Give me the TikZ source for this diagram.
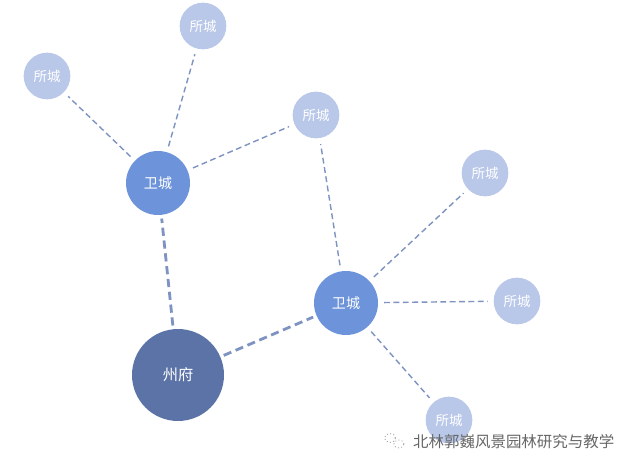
\documentclass[tikz,border=0pt]{standalone}
\usepackage{fontspec}
\newfontfamily\cjk{Noto Sans CJK SC}
\usetikzlibrary{calc,shapes.geometric}
\definecolor{zhoufu}{HTML}{5B73A6}
\definecolor{weicheng}{HTML}{6D93DA}
\definecolor{suocheng}{HTML}{B9C8E9}
\definecolor{linkcol}{HTML}{7E93C2}
\tikzset{
	zhou/.style={circle, fill=zhoufu, minimum size=27.6mm, inner sep=0pt, text=white, font=\cjk\fontsize{13}{13}\selectfont},
	wei/.style={circle, fill=weicheng, minimum size=19.2mm, inner sep=0pt, text=white, font=\cjk\fontsize{12}{12}\selectfont},
	suo/.style={circle, fill=suocheng, minimum size=14mm, inner sep=0pt, text=white, font=\cjk\fontsize{11.5}{11.5}\selectfont},
	mainlink/.style={draw=linkcol, line width=2.4pt, dash pattern=on 7pt off 4pt, shorten <=3pt, shorten >=3pt},
	sublink/.style={draw=linkcol, line width=1.2pt, dash pattern=on 5pt off 3pt, shorten <=5pt, shorten >=5pt}
}
\begin{document}
\begin{tikzpicture}[x=0.3mm, y=-0.3mm]
		%%%%% START %%%%%
		\useasboundingbox (0, 0) rectangle (630, 472);
		
		\node[zhou] (zf) at (178, 375) {州府};
		
		\node[wei] (wL) at (158, 183) {卫城};
		\node[wei] (wR) at (346, 303) {卫城};
		
		\node[suo] (s1) at (203, 26) {所城};
		\node[suo] (s2) at (47, 76) {所城};
		\node[suo] (s3) at (316, 115) {所城};
		\node[suo] (s4) at (485, 173) {所城};
		\node[suo] (s5) at (517, 301) {所城};
		\node[suo] (s6) at (449, 420) {所城};
		
		\draw[mainlink] (zf) -- (wL);
		\draw[mainlink] (zf) -- (wR);
		
		\draw[sublink] (wL) -- (s1);
		\draw[sublink] (wL) -- (s2);
		\draw[sublink] (wL) -- (s3);
		
		\draw[sublink] (wR) -- (s3);
		\draw[sublink] (wR) -- (s4);
		\draw[sublink] (wR) -- (s5);
		\draw[sublink] (wR) -- (s6);
		
		% watermark
		\node[draw=gray!70, dotted, thick, ellipse, minimum width=3.3mm, minimum height=2.7mm, inner sep=0pt] (ic1) at (390, 438) {};
		\node[draw=gray!70, dotted, thick, ellipse, minimum width=3mm, minimum height=2.4mm, inner sep=0pt] (ic2) at (399, 444) {};
		\node[anchor=west, text=black!60, font=\cjk\fontsize{13.2}{13.2}\selectfont, inner sep=0pt] (wm) at (413, 442) {北林郭巍风景园林研究与教学};
		%%%%% END %%%%%
	\end{tikzpicture}
\end{document}
